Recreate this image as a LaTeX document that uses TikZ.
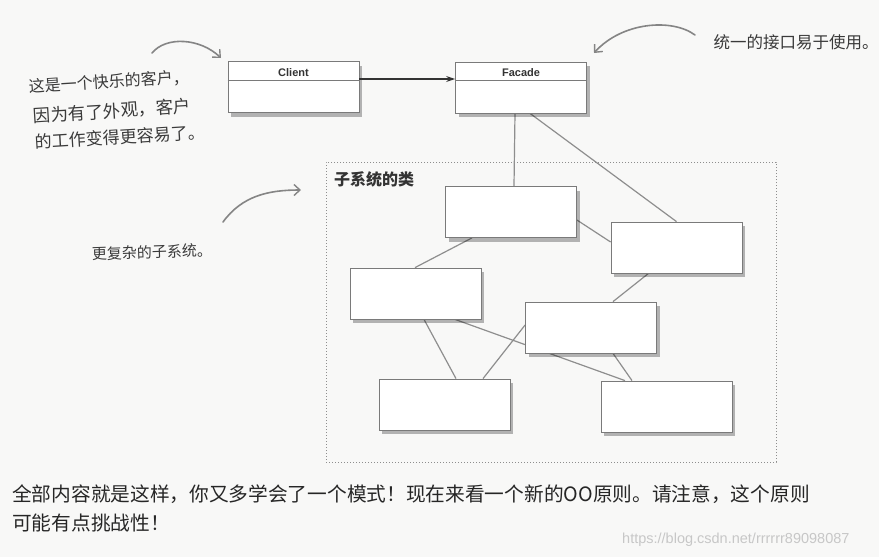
\documentclass[tikz,border=0pt]{standalone}
\usepackage{fontspec}
\newfontfamily\cjk{Noto Sans CJK SC}
\newfontfamily\arial{Liberation Sans}
\usetikzlibrary{arrows.meta,shadows,calc}
\pgfdeclarelayer{back}
\pgfdeclarelayer{lines}
\pgfsetlayers{back,lines,main}
\definecolor{pagebg}{HTML}{F8F8F7}
\definecolor{boxline}{HTML}{7A7A7A}
\definecolor{conn}{HTML}{8E8E8E}
\definecolor{hand}{HTML}{3A3A3A}
\definecolor{note}{HTML}{858585}
\tikzset{
  umlbox/.style={draw=boxline, line width=0.8pt, fill=white, minimum width=131pt, minimum height=51pt,
    inner sep=0pt, drop shadow={shadow xshift=3pt, shadow yshift=-4pt, fill=black, opacity=0.28}},
  conline/.style={draw=conn, line width=1.2pt},
  notearrow/.style={draw=note, line width=1.6pt, line cap=round, -{Straight Barb[length=6pt,width=11pt,line width=1.4pt]}},
  handtext/.style={font=\cjk\fontsize{16}{18}\selectfont, text=hand, inner sep=0pt},
  uname/.style={font=\arial\bfseries\fontsize{11}{13}\selectfont, text=black!80, inner sep=0pt},
}
\begin{document}
\begin{tikzpicture}[x=1pt,y=-1pt]
\useasboundingbox (0,0) rectangle (879,557);
\begin{pgfonlayer}{back}
  \fill[pagebg] (0,0) rectangle (879,557);
\end{pgfonlayer}

% subsystem frame
\node[draw=conn, dotted, line width=1pt, minimum width=450pt, minimum height=300pt, inner sep=0pt] (frame) at (551,312) {};
\node[anchor=west, font=\cjk\bfseries\fontsize{16}{18}\selectfont, text=black!80, inner sep=0pt] (framelabel) at (334,179) {子系统的类};

% client and facade
\node[umlbox] (client) at (293.5,87) {};
\node[umlbox] (facade) at (521,87.5) {};
\draw[boxline, line width=0.8pt] ([yshift=-19pt]client.north west) -- ([yshift=-19pt]client.north east);
\draw[boxline, line width=0.8pt] ([yshift=-19pt]facade.north west) -- ([yshift=-19pt]facade.north east);
\node[uname] (clientname) at ([yshift=-11pt]client.north) {Client};
\node[uname] (facadename) at ([yshift=-11pt]facade.north) {Facade};
\draw[line width=1.3pt, black!80, -{Stealth[length=9pt,width=6pt]}] ([yshift=8pt]client.east) -- ([yshift=8.5pt]facade.west);

% subsystem classes
\node[umlbox] (A) at (511,212) {};
\node[umlbox] (B) at (676.5,247.5) {};
\node[umlbox] (C) at (415.5,293.5) {};
\node[umlbox] (D) at (591,327.5) {};
\node[umlbox] (E) at (444.5,404.5) {};
\node[umlbox] (F) at (666.5,406.5) {};

\begin{pgfonlayer}{lines}
  \draw[conline] ([xshift=-6pt]facade.south) -- ([xshift=3pt]A.north);
  \draw[conline] ([xshift=9pt]facade.south) -- (B.north);
  \draw[conline] ([yshift=-8pt]A.east) -- ([yshift=5.5pt]B.west);
  \draw[conline] ([xshift=-39pt]A.south) -- ([xshift=-0.5pt]C.north);
  \draw[conline] ([xshift=-28pt]B.south) -- ([xshift=22pt]D.north);
  \draw[conline] ([xshift=8.5pt]C.south) -- ([xshift=11.5pt]E.north);
  \draw[conline] ([xshift=39.5pt]C.south) -- ([xshift=-41.5pt]F.north);
  \draw[conline] ([xshift=38.5pt]E.north) -- ([yshift=2.5pt]D.west);
  \draw[conline] ([xshift=22pt]D.south) -- ([xshift=-34.5pt]F.north);
\end{pgfonlayer}

% hand-written notes
\node[handtext, rotate=3.5] (n1a) at (109,82) {这是一个快乐的客户，};
\node[handtext, rotate=3.5, font=\cjk\fontsize{17.5}{19}\selectfont] (n1b) at (112,111) {因为有了外观，客户};
\node[handtext, rotate=3.5, font=\cjk\fontsize{17}{19}\selectfont] (n1c) at (120,137) {的工作变得更容易了。};
\node[handtext, font=\cjk\fontsize{16.5}{18}\selectfont] (n2) at (796,42) {统一的接口易于使用。};
\node[handtext, rotate=2, font=\cjk\fontsize{15}{17}\selectfont] (n3) at (152,252) {更复杂的子系统。};

\coordinate (a1s) at (152,53);
\coordinate (a1e) at (221,58);
\coordinate (a2s) at (695,35);
\coordinate (a2e) at (594,53);
\coordinate (a3s) at (223,222);
\coordinate (a3e) at (301,190);
\draw[notearrow] (a1s) .. controls (166,36) and (200,38) .. (a1e);
\draw[notearrow] (a2s) .. controls (672,18) and (622,22) .. (a2e);
\draw[notearrow] (a3s) .. controls (242,196) and (268,190) .. (a3e);

% bottom text
\node[anchor=west, font=\cjk\fontsize{19.7}{29}\selectfont, text=black!85, inner sep=0pt] (t1) at (12,494) {全部内容就是这样，你又多学会了一个模式！现在来看一个新的OO原则。请注意，这个原则};
\node[anchor=west, font=\cjk\fontsize{19.7}{29}\selectfont, text=black!85, inner sep=0pt] (t2) at (12,523) {可能有点挑战性！};
\node[anchor=west, font=\arial\fontsize{14.5}{16}\selectfont, text=black!22, inner sep=0pt] (wm) at (622,540) {https://blog.csdn.net/rrrrrr89098087};
\end{tikzpicture}
\end{document}
